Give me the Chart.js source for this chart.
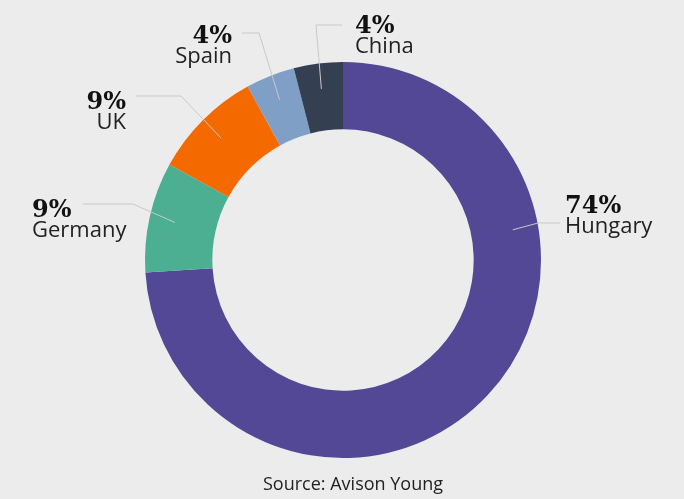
<!DOCTYPE html>
<html>
<head>
<meta charset="utf-8">
<script src="https://cdn.jsdelivr.net/npm/chart.js@4/dist/chart.umd.min.js"></script>
<style>
  html, body { margin: 0; padding: 0; background: #ececec; }
  canvas { display: block; }
</style>
</head>
<body>
<canvas id="dona" width="684" height="499"></canvas>
<script>
// Datos
const paises = ['Hungary', 'Germany', 'UK', 'Spain', 'China'];
const porcentajes = [74, 9, 9, 4, 4];
const colores = ['#534896', '#4caf92', '#f46a00', '#7f9fc6', '#353f52'];
const fuente = 'Source: Avison Young';

// Posición de las etiquetas (x texto, línea base del nombre, tramo horizontal de la guía)
const etiquetas = [
    { align: 'left',  x: 565, y: 233, l1: [560, 223], l2: [538, 223], frac: 0.3 },
    { align: 'left',  x: 32,  y: 237, l1: [83, 204],  l2: [133, 204], frac: 0.5 },
    { align: 'right', x: 126, y: 129, l1: [136, 96],  l2: [181, 96],  frac: 0.5 },
    { align: 'right', x: 232, y: 63,  l1: [242, 33],  l2: [259, 33],  frac: 0.5 },
    { align: 'left',  x: 355, y: 53,  l1: [342, 25],  l2: [316, 25],  frac: 0.5 }
];

// Plugin para guías, etiquetas y fuente
const etiquetasPlugin = {
    id: 'etiquetas',
    afterDatasetsDraw(chart) {
        const ctx = chart.ctx;
        const arcs = chart.getDatasetMeta(0).data;
        ctx.save();
        arcs.forEach((arc, i) => {
            const e = etiquetas[i];
            const ang = arc.startAngle + (arc.endAngle - arc.startAngle) * e.frac;
            const r = arc.innerRadius + (arc.outerRadius - arc.innerRadius) * 0.62;
            const ax = arc.x + Math.cos(ang) * r;
            const ay = arc.y + Math.sin(ang) * r;

            ctx.strokeStyle = '#c9c9c6';
            ctx.lineWidth = 1;
            ctx.beginPath();
            ctx.moveTo(e.l1[0], e.l1[1]);
            ctx.lineTo(e.l2[0], e.l2[1]);
            ctx.lineTo(ax, ay);
            ctx.stroke();

            ctx.textAlign = e.align;
            ctx.textBaseline = 'alphabetic';
            ctx.fillStyle = '#111';
            ctx.font = 'bold 24px "DejaVu Serif"';
            ctx.fillText(porcentajes[i] + '%', e.x, e.y - 20);
            ctx.fillStyle = '#222';
            ctx.font = '22px "Open Sans"';
            ctx.fillText(paises[i], e.x, e.y);
        });

        ctx.textAlign = 'center';
        ctx.fillStyle = '#222';
        ctx.font = '18px "Open Sans"';
        ctx.fillText(fuente, 353, 490);
        ctx.restore();
    }
};

new Chart(document.getElementById('dona'), {
    type: 'doughnut',
    data: {
        labels: paises,
        datasets: [{
            data: porcentajes,
            backgroundColor: colores,
            borderWidth: 0,
            hoverOffset: 0
        }]
    },
    options: {
        responsive: false,
        animation: false,
        cutout: '66%',
        layout: { padding: { top: 62, bottom: 41, left: 2, right: 0 } },
        plugins: {
            legend: { display: false },
            tooltip: { enabled: false }
        },
        events: []
    },
    plugins: [etiquetasPlugin]
});
</script>
</body>
</html>
